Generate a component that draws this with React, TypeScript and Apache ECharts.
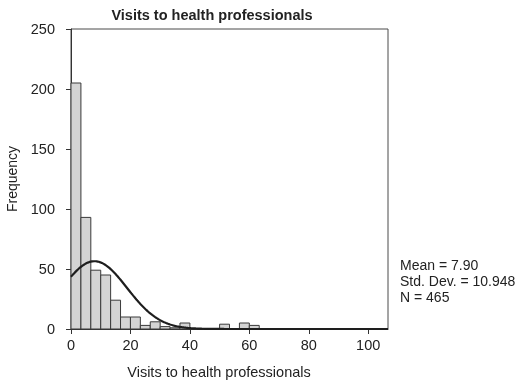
import React, { useEffect, useRef } from "react";
import * as echarts from "echarts";

// Histogram bins (width 10/3 visits) and their frequencies
const binWidth = 10 / 3;
const binCounts = [
  205, 93, 49, 45, 24, 10, 10, 3, 6, 2, 1, 5, 0, 0, 0, 4,
  0, 5, 3, 0, 0, 0, 0, 0, 0, 0, 0, 0, 0, 0, 0, 0,
];
const xTicks = [0, 20, 40, 60, 80, 100];
const yTicks = [0, 50, 100, 150, 200, 250];

// Summary statistics shown beside the plot
const meanVisits = 7.9;
const sdVisits = 10.948;
const nCases = 465;

const FONT = '"Liberation Sans", Arial, Helvetica, sans-serif';
const TEXT = "#222";

export default function App() {
  const ref = useRef<HTMLDivElement>(null);

  useEffect(() => {
    if (!ref.current) return;
    const chart = echarts.init(ref.current, undefined, { renderer: "svg" });

    const xMax = binCounts.length * binWidth;

    const bars = binCounts
      .map((c, i) => [i * binWidth, (i + 1) * binWidth, c])
      .filter((d) => d[2] > 0);

    // Fitted normal curve scaled to the histogram's counts
    const scale = (nCases * binWidth) / (sdVisits * Math.sqrt(2 * Math.PI));
    const curve: number[][] = [];
    for (let i = 0; i <= 320; i++) {
      const x = (xMax * i) / 320;
      const z = (x - meanVisits) / sdVisits;
      curve.push([x, scale * Math.exp(-0.5 * z * z)]);
    }

    chart.setOption({
      animation: false,
      textStyle: { fontFamily: FONT },
      grid: {
        left: 71,
        top: 29,
        right: 130,
        bottom: 57,
        show: true,
        borderColor: "#4a4a4a",
        borderWidth: 1,
        backgroundColor: "transparent",
      },
      xAxis: {
        type: "value",
        min: 0,
        max: xMax,
        interval: 20,
        axisLine: { show: true, lineStyle: { color: "#333", width: 1 } },
        axisTick: {
          show: true,
          length: 5,
          customValues: xTicks,
          lineStyle: { color: "#333" },
        },
        axisLabel: {
          customValues: xTicks,
          color: TEXT,
          fontSize: 14.5,
          fontFamily: FONT,
          margin: 8,
        },
        splitLine: { show: false },
      },
      yAxis: {
        type: "value",
        min: 0,
        max: 250,
        interval: 50,
        axisLine: { show: true, lineStyle: { color: "#333", width: 1 } },
        axisTick: {
          show: true,
          length: 5,
          customValues: yTicks,
          lineStyle: { color: "#333" },
        },
        axisLabel: {
          customValues: yTicks,
          color: TEXT,
          fontSize: 14.5,
          fontFamily: FONT,
          margin: 16,
        },
        splitLine: { show: false },
      },
      series: [
        {
          type: "custom",
          data: bars,
          encode: { x: [0, 1], y: 2 },
          renderItem: (params: any, api: any) => {
            const p0 = api.coord([api.value(0), api.value(2)]);
            const p1 = api.coord([api.value(1), 0]);
            return {
              type: "rect",
              shape: {
                x: p0[0],
                y: p0[1],
                width: p1[0] - p0[0],
                height: p1[1] - p0[1],
              },
              style: { fill: "#d4d4d4", stroke: "#3a3a3a", lineWidth: 1 },
            };
          },
        },
        {
          type: "line",
          data: curve,
          showSymbol: false,
          smooth: false,
          lineStyle: { color: "#1e1e1e", width: 2.2 },
          z: 5,
        },
      ],
      graphic: [
        {
          type: "text",
          x: 212,
          y: 15,
          style: {
            text: "Visits to health professionals",
            font: `bold 14.5px ${FONT}`,
            fill: TEXT,
            textAlign: "center",
            textVerticalAlign: "middle",
          },
        },
        {
          type: "text",
          x: 219,
          y: 372,
          style: {
            text: "Visits to health professionals",
            font: `14.5px ${FONT}`,
            fill: TEXT,
            textAlign: "center",
            textVerticalAlign: "middle",
          },
        },
        {
          type: "text",
          x: 12,
          y: 179,
          rotation: Math.PI / 2,
          style: {
            text: "Frequency",
            font: `14px ${FONT}`,
            fill: TEXT,
            textAlign: "center",
            textVerticalAlign: "middle",
          },
        },
        {
          type: "text",
          x: 400,
          y: 265,
          style: {
            text: `Mean = ${meanVisits.toFixed(2)}`,
            font: `14px ${FONT}`,
            fill: TEXT,
            textAlign: "left",
            textVerticalAlign: "middle",
          },
        },
        {
          type: "text",
          x: 400,
          y: 281,
          style: {
            text: `Std. Dev. = ${sdVisits.toFixed(3)}`,
            font: `14px ${FONT}`,
            fill: TEXT,
            textAlign: "left",
            textVerticalAlign: "middle",
          },
        },
        {
          type: "text",
          x: 400,
          y: 297,
          style: {
            text: `N = ${nCases}`,
            font: `14px ${FONT}`,
            fill: TEXT,
            textAlign: "left",
            textVerticalAlign: "middle",
          },
        },
      ],
    });

    return () => chart.dispose();
  }, []);

  return (
    <div
      ref={ref}
      style={{ position: "fixed", left: 0, top: 0, width: 518, height: 386 }}
    />
  );
}
